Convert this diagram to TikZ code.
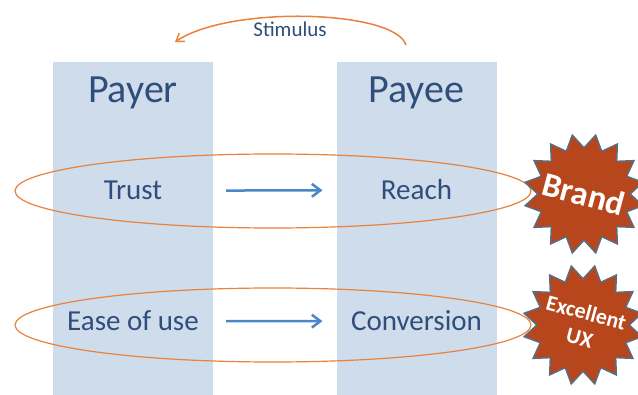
\documentclass[tikz,border=0pt]{standalone}
\usepackage{fontspec}
\setmainfont{Carlito}
\usepackage{tikz}
\usetikzlibrary{arrows.meta,positioning,shapes.geometric}

\definecolor{colfill}{HTML}{CFDCEC}
\definecolor{txtblue}{HTML}{2F4E7A}
\definecolor{arrblue}{HTML}{4A87C9}
\definecolor{ringorange}{HTML}{E8823C}
\definecolor{rust}{HTML}{B8461C}
\definecolor{rim}{HTML}{5E6C80}

\begin{document}
\begin{tikzpicture}[
  x=1pt,y=-1pt,
  column/.style={rectangle,fill=colfill,inner sep=0pt,anchor=north,
                 minimum width=160pt,minimum height=333pt},
  head/.style={font=\fontsize{40}{42}\selectfont,text=txtblue,anchor=base},
  item/.style={font=\fontsize{29}{31}\selectfont,text=txtblue,anchor=base},
  ring/.style={ellipse,draw=ringorange,line width=1.2pt,
               minimum width=516pt,minimum height=74pt},
  badge/.style={star,star points=16,star point ratio=1.3,shape border rotate=11.25,
                fill=rust,draw=rim,line width=1.5pt,minimum size=120pt,inner sep=0pt},
  badgetxt/.style={text=white,font=\bfseries,align=center,rotate=-15,inner sep=0pt},
  flow/.style={-{Straight Barb[length=3mm,width=4.5mm]},draw=arrblue,line width=2.5pt,
               yshift=-3pt,shorten <=93pt,shorten >=94pt},
  stim/.style={-{Straight Barb[length=2.5mm,width=3.5mm]},draw=ringorange,line width=1.5pt}
]
\useasboundingbox (0,0) rectangle (638,395);

% the two parties
\node[column] (payercol) at (133,62) {};
\node[column] (payeecol) at (416.5,62) {};
\node[head] (payer) at (133,103) {Payer};
\node[head] (payee) at (416.5,103) {Payee};

% what each side wants
\node[item] (trust) at (133,200) {Trust};
\node[item] (reach) at (416.5,200) {Reach};
\node[item] (ease) at (133,331) {Ease of use};
\node[item] (conv) at (416.5,331) {Conversion};

\draw[flow] (trust.center) -- (reach.center);
\draw[flow] (ease.center) -- (conv.center);

% rings linking each row to its driver
\node[ring] (ringA) at (273,191) {};
\node[ring] (ringB) at (273,325) {};

\node[badge] (brand) at (584,194) {};
\node[badge] (ux) at (583,325) {};
\node[badgetxt,font=\fontsize{34}{36}\selectfont\bfseries] at (brand) {Brand};
\node[badgetxt,font=\fontsize{22}{26}\selectfont\bfseries] at (ux) {Excellent\\UX};

% stimulus back from payee to payer
\coordinate (stimfrom) at (406,45);
\coordinate (stimto) at (175,42);
\draw[stim] (stimfrom) .. controls (395,10) and (230,5) .. (stimto);
\node[text=txtblue,font=\fontsize{21}{23}\selectfont,anchor=base] (stimlbl) at (290,37) {Stimulus};
\end{tikzpicture}
\end{document}
